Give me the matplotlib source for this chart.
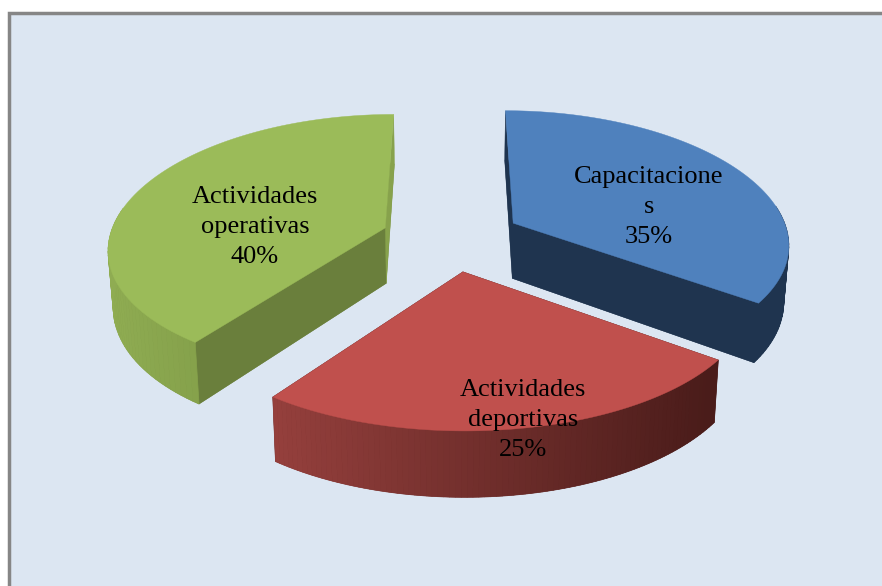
import numpy as np
import matplotlib
matplotlib.use("Agg")
import matplotlib.pyplot as plt
from matplotlib.colors import to_rgb
from matplotlib.patches import Polygon, Rectangle

labels = ["Capacitacione\ns\n35%", "Actividades\ndeportivas\n25%", "Actividades\noperativas\n40%"]
values = [35, 25, 40]
top_colors = ["#4F81BD", "#C0504D", "#9BBB59"]
face_colors = ["#1F344F", "#4C1D1B", "#6A7F3C"]
side_left = ["#1F344F", "#96403D", "#8FAC52"]
side_right = ["#1F344F", "#4A1C1A", "#84A04A"]
label_pos = [(649, 207), (523, 420), (255, 227)]

# projection of the pie plane onto the picture
XC, YC = 451.5, 238
RX, RY = 276, 130
PERSP_X = 0.145
PERSP_Y = 0.125
EXPLODE = 0.255
DEPTH = 56


def project(u, v, low=False):
    x = RX * u / (1 - PERSP_X * v)
    s = 1 / (1 - PERSP_Y * v)
    y = RY * v * s
    if low:
        return XC + x * 0.985, YC + y + DEPTH * s
    return XC + x, YC + y


def mix(c1, c2, t):
    c1, c2 = np.array(to_rgb(c1)), np.array(to_rgb(c2))
    return tuple(c1 + (c2 - c1) * min(max(t, 0), 1))


fig = plt.figure(figsize=(8.82, 5.86), dpi=100)
ax = fig.add_axes([0, 0, 1, 1])
ax.set_xlim(0, 882)
ax.set_ylim(586, 0)
ax.axis("off")

ax.add_patch(Rectangle((8.5, 13), 880, 580, fc="#DCE6F2", ec="#868686", lw=2.5))

edges = np.cumsum([0] + values) / sum(values) * 2 * np.pi
draw_order = [2, 0, 1]  # back slices first

for i in draw_order:
    a0, a1 = edges[i], edges[i + 1]
    mid = (a0 + a1) / 2
    cu, cv = EXPLODE * np.sin(mid), -EXPLODE * np.cos(mid)
    ang = np.linspace(a0, a1, 90)
    us = cu + np.sin(ang)
    vs = cv - np.cos(ang)

    top_arc = [project(u, v) for u, v in zip(us, vs)]
    top_apex = project(cu, cv)
    low_arc = [project(u, v, True) for u, v in zip(us, vs)]
    low_apex = project(cu, cv, True)

    # radial faces first, the curved side covers what is behind it
    ax.add_patch(Polygon([low_apex] + low_arc, fc=face_colors[i], ec="none"))
    for end in (0, -1):
        col = "#87A24C" if i == 2 and end == -1 else face_colors[i]
        ax.add_patch(Polygon([top_apex, top_arc[end], low_arc[end], low_apex], fc=col, ec=col, lw=0.3))

    # outer curved side, in narrow strips for the shading
    for k in range(len(ang) - 1):
        if np.cos(ang[k]) > 0.15:
            continue
        p1, p2 = top_arc[k], top_arc[k + 1]
        p3, p4 = low_arc[k + 1], low_arc[k]
        col = mix(side_left[i], side_right[i], (p1[0] - 270) / 440 if i == 1 else (p1[0] - 110) / 100)
        ax.add_patch(Polygon([p1, p2, p3, p4], fc=col, ec=col, lw=0.5))

    ax.add_patch(Polygon([top_apex] + top_arc, fc=top_colors[i], ec=top_colors[i], lw=0.3))

for lab, (x, y) in zip(labels, label_pos):
    ax.text(x, y, lab, ha="center", va="center", family="Liberation Serif", fontsize=19,
            linespacing=1.47, color="black")

fig.savefig("out.png", dpi=100)
